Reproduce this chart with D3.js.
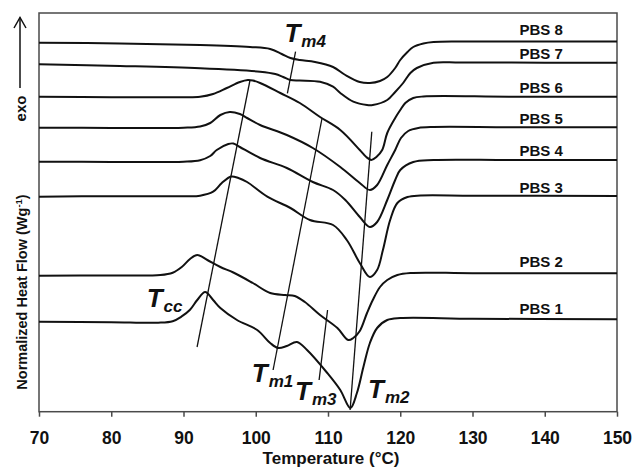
<!DOCTYPE html>
<html>
<head>
<meta charset="utf-8">
<script src="https://cdn.jsdelivr.net/npm/d3@7"></script>
<style>
  html, body { margin: 0; padding: 0; background: #fff; }
  svg { display: block; }
  text { font-family: "Liberation Sans", Arial, Helvetica, sans-serif; }
</style>
</head>
<body>
<svg id="chart" width="634" height="472"></svg>
<script>
// ---------------- DATA ----------------
const xTicks = [70, 80, 90, 100, 110, 120, 130, 140, 150];
const seriesNames = ["PBS 1", "PBS 2", "PBS 3", "PBS 4", "PBS 5", "PBS 6", "PBS 7", "PBS 8"];

// [Temperature (°C), normalized heat flow (arbitrary offset units)]
const PBS1 = [[70,9.0],[80,8.95],[86.5,8.9],[88.5,9.05],[89.7,9.5],[90.9,10.2],[91.9,11.17],[93.0,11.97],[94.1,11.17],[95.1,10.37],[97.4,9.17],[100.2,8.17],[102.0,6.87],[103.1,6.37],[104.3,6.57],[105.7,6.97],[107.1,6.17],[109.9,3.87],[111.7,2.17],[113.1,0.37],[114.0,1.87],[114.9,4.47],[115.8,6.87],[116.8,8.37],[118.2,9.17],[120.0,9.37],[130,9.3],[150,9.24]];
const PBS2 = [[70,13.6],[80,13.63],[86.8,13.67],[88.5,13.9],[89.8,14.5],[90.9,15.27],[91.9,15.67],[93.3,15.17],[95.1,14.47],[96.9,13.92],[99.6,12.87],[102.0,11.87],[104.1,11.67],[105.4,11.57],[106.8,10.97],[108.9,9.67],[111.3,8.37],[112.8,7.17],[113.5,7.37],[114.4,8.07],[115.4,9.87],[116.2,11.17],[117.2,12.47],[118.2,13.17],[119.6,13.67],[121.4,13.87],[130,13.85],[150,13.84]];
const PBS3 = [[70,21.5],[80,21.55],[90,21.55],[92.3,21.6],[94.1,22.0],[95.3,22.87],[96.6,23.52],[97.6,23.37],[98.8,22.97],[101.6,21.5],[104.8,20.37],[107.5,19.17],[110.7,18.67],[112.6,17.17],[114.4,14.87],[115.8,13.47],[116.8,14.17],[117.6,16.17],[118.6,19.17],[119.6,20.87],[121.0,21.47],[122.8,21.62],[130,21.6],[150,21.57]];
const PBS4 = [[70,25.0],[80,24.98],[90,25.0],[92.3,25.15],[93.7,25.57],[94.6,26.17],[96.2,26.77],[96.9,26.82],[97.8,26.47],[100.6,25.37],[104.3,24.37],[107.9,22.97],[110.7,22.17],[112.4,21.17],[114.4,19.47],[115.8,18.47],[116.8,18.97],[118.2,21.17],[119.3,23.17],[120.0,24.17],[121.8,24.97],[124.6,25.17],[135,25.17],[150,25.17]];
const PBS5 = [[70,28.4],[80,28.38],[90,28.4],[92.3,28.52],[93.7,28.87],[95.1,29.67],[96.4,29.97],[97.8,29.77],[98.8,29.37],[100.6,28.67],[104.3,27.67],[107.9,26.37],[111.7,24.47],[114.4,22.87],[115.8,22.17],[116.8,22.67],[118.2,24.67],[119.3,26.17],[120.1,27.37],[121.1,28.07],[122.5,28.37],[124.6,28.47],[135,28.45],[150,28.44]];
const PBS6 = [[70,31.5],[80,31.45],[90,31.45],[92.3,31.5],[94.1,31.77],[96.0,32.37],[97.8,32.97],[98.9,33.17],[99.6,33.12],[100.6,32.87],[103.4,31.87],[106.1,30.87],[108.9,29.47],[111.7,28.17],[114.4,26.17],[115.3,25.47],[116.0,25.17],[116.7,25.47],[117.5,26.17],[118.2,27.87],[119.3,29.37],[120.0,30.17],[120.7,30.87],[121.8,31.37],[123.2,31.52],[135,31.5],[150,31.5]];
const PBS7 = [[70,34.74],[81.2,34.57],[92.3,34.34],[100.6,34.0],[102.7,33.77],[103.8,33.47],[104.8,33.17],[106.1,33.12],[108.9,33.0],[110.7,32.5],[111.7,31.87],[113.5,31.0],[115.4,30.67],[116.2,30.67],[118.2,31.17],[119.3,31.97],[120.4,32.87],[121.4,33.87],[122.3,34.37],[124.6,34.9],[128.3,34.92],[140,34.9],[150,34.9]];
const PBS8 = [[70,36.9],[81.2,36.82],[92.3,36.67],[99.2,36.47],[102.0,36.27],[103.6,35.77],[104.8,35.37],[106.1,35.17],[108.2,34.97],[110.7,34.47],[112.4,33.67],[114.4,32.97],[115.8,32.87],[117.2,33.07],[118.2,33.47],[119.3,34.37],[120.0,35.17],[121.0,35.97],[121.8,36.47],[123.2,36.82],[124.6,36.97],[128.3,37.02],[140,37.02],[150,37.02]];
const allSeries = [PBS1, PBS2, PBS3, PBS4, PBS5, PBS6, PBS7, PBS8];

// series label anchor (temperature, heat-flow value)
const seriesLabelT = [139.5, 139.5, 139.5, 139.5, 139.5, 139.5, 139.5, 139.5];
const seriesLabelHF = [9.77, 14.47, 21.87, 25.57, 28.77, 31.87, 35.27, 37.67];

// transition guide lines: [[T1, HF1], [T2, HF2]]
const guideNames = ["cc", "m1", "m3", "m2", "m4"];
const guideLines = [
  [[99.21, 33.17], [91.88, 6.47]],
  [[109.18, 29.37], [102.40, 4.17]],
  [[109.94, 10.17], [108.77, 3.17]],
  [[116.06, 28.0], [113.06, 0.17]],
  [[105.51, 36.0], [104.38, 31.84]]
];
// guide label anchors (T, HF) at baseline-left of "T"
const guideLabelPos = [[84.91, 10.5], [99.45, 3.0], [105.44, 1.17], [115.55, 1.37], [103.97, 36.97]];

// ---------------- CHART ----------------
const svg = d3.select("#chart");
const plotL = 39, plotR = 617, plotT = 13, plotB = 411.7;

const x = d3.scaleLinear().domain([70, 150]).range([plotL, plotR]);
const y = d3.scaleLinear().domain([0, 40]).range([plotB, plotB - 400]);

// frame
svg.append("rect")
  .attr("x", plotL).attr("y", plotT)
  .attr("width", plotR - plotL).attr("height", plotB - plotT)
  .attr("fill", "none").attr("stroke", "#4a4a4a").attr("stroke-width", 1.5);

// x axis
const xAxis = d3.axisBottom(x).tickValues(xTicks).tickSize(5).tickPadding(15).tickSizeOuter(0);
const gx = svg.append("g").attr("transform", `translate(0,${plotB})`).call(xAxis);
gx.select(".domain").remove();
gx.selectAll(".tick line").attr("stroke", "#4a4a4a").attr("stroke-width", 1.5);
gx.selectAll(".tick text")
  .attr("fill", "#111")
  .style("font-size", "17.5px").style("font-weight", "bold")
  .style("font-family", "'Liberation Sans', Arial, sans-serif");

// axis titles
svg.append("text")
  .attr("x", 331).attr("y", 464)
  .attr("text-anchor", "middle")
  .style("font-size", "17px").style("font-weight", "bold").attr("fill", "#111")
  .text("Temperature (°C)");

const yl = svg.append("text")
  .attr("transform", "translate(27,292) rotate(-90)")
  .attr("text-anchor", "middle")
  .style("font-size", "14.5px").style("font-weight", "bold").attr("fill", "#111");
yl.append("tspan").text("Normalized Heat Flow (Wg");
yl.append("tspan").attr("dy", -5).style("font-size", "9.5px").text("-1");
yl.append("tspan").attr("dy", 5).text(")");

// exo arrow
svg.append("text")
  .attr("transform", "translate(26,108.5) rotate(-90)")
  .attr("text-anchor", "middle")
  .style("font-size", "15px").style("font-weight", "bold").attr("fill", "#111")
  .text("exo");
svg.append("line").attr("x1", 20).attr("y1", 88).attr("x2", 20).attr("y2", 17.5)
  .attr("stroke", "#111").attr("stroke-width", 1.5);
svg.append("path").attr("d", "M14,28 L20,17.5 L26,28")
  .attr("fill", "none").attr("stroke", "#111").attr("stroke-width", 1.5);

// curves
const line = d3.line()
  .x(d => x(d[0])).y(d => y(d[1]))
  .curve(d3.curveCatmullRom.alpha(0.5));

svg.append("g").selectAll("path")
  .data(allSeries).join("path")
  .attr("d", line)
  .attr("fill", "none").attr("stroke", "#111").attr("stroke-width", 2)
  .attr("stroke-linejoin", "round");

// series labels
svg.append("g").selectAll("text")
  .data(seriesNames).join("text")
  .attr("x", (d, i) => x(seriesLabelT[i]))
  .attr("y", (d, i) => y(seriesLabelHF[i]))
  .attr("text-anchor", "middle")
  .style("font-size", "15px").style("font-weight", "bold").attr("fill", "#111")
  .text(d => d);

// guide lines
const straight = d3.line().x(d => x(d[0])).y(d => y(d[1]));
svg.append("g").selectAll("path")
  .data(guideLines).join("path")
  .attr("d", straight)
  .attr("fill", "none").attr("stroke", "#111").attr("stroke-width", 1.3);

// guide labels
const gl = svg.append("g").selectAll("text")
  .data(guideNames).join("text")
  .attr("x", (d, i) => x(guideLabelPos[i][0]))
  .attr("y", (d, i) => y(guideLabelPos[i][1]))
  .style("font-weight", "bold").style("font-style", "italic").attr("fill", "#111");
gl.append("tspan").style("font-size", "26px").text("T");
gl.append("tspan").attr("dy", 5).attr("dx", 1).style("font-size", "17px").text(d => d);
</script>
</body>
</html>
